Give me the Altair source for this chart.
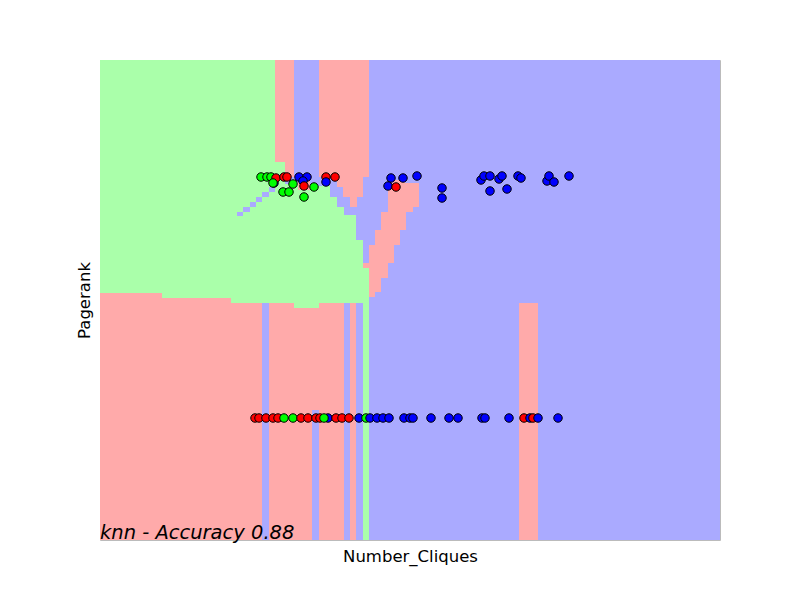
import altair as alt
import pandas as pd

# ---- decision-region rectangles (data units) ----
rx0 = [0, 0, 0, 62, 131, 194, 230, 237, 244, 256, 263, 175, 175, 219, 237, 243, 250,
       198, 210, 185,
       137, 143, 150, 156, 162, 169,
       293, 288, 288, 281, 275, 269, 269, 269, 269, 263,
       162, 212, 244, 256, 419]
rx1 = [620, 263, 175, 230, 230, 219, 237, 244, 256, 263, 269, 194, 185, 269, 263, 263, 257,
       210, 230, 198,
       143, 150, 156, 162, 169, 175,
       305, 319, 313, 306, 300, 294, 288, 281, 275, 269,
       169, 219, 250, 263, 438]
ry0 = [0, 0, 247, 242, 237, 232, 237, 237, 237, 237, 0, 363, 363, 363, 353, 343, 333,
       350, 354, 356,
       324, 328, 333, 338, 343, 348,
       357, 333, 328, 310, 295, 277, 262, 248, 243, 272,
       0, 0, 0, 0, 0]
ry1 = [480, 247, 480, 360, 242, 237, 343, 333, 325, 300, 272, 480, 378, 480, 363, 353, 343,
       360, 363, 363,
       328, 333, 338, 343, 348, 353,
       360, 357, 333, 328, 310, 295, 277, 262, 248, 277,
       237, 130, 237, 237, 237]
rcls = ["B", "R", "G", "G", "G", "G", "G", "G", "G", "G", "G", "R", "G", "R", "R", "R", "R",
        "R", "B", "B",
        "B", "B", "B", "B", "B", "B",
        "R", "R", "R", "R", "R", "R", "R", "R", "R", "R",
        "B", "B", "B", "B", "R"]

# ---- samples ----
bot_x = [155, 159, 166, 173, 178, 184, 193, 201, 208, 216, 220, 228, 224, 236, 242, 249,
         259, 266, 270, 277, 283, 289, 304, 310, 313, 331, 349, 358, 382, 385, 409,
         424, 430, 433, 438, 458]
bot_c = ["R", "R", "R", "R", "R", "G", "G", "R", "R", "R", "R", "B", "G", "R", "R", "R",
         "B", "G", "B", "B", "B", "B", "B", "B", "B", "B", "B", "B", "B", "B", "B",
         "R", "B", "R", "B", "B"]
bot_y = 122

top_x = [174, 161, 167, 171, 176, 173, 184, 187, 199, 207, 203, 204, 193, 183, 189, 204,
         214, 226, 226, 235,
         291, 288, 296, 303, 317, 342, 342,
         381, 384, 390, 390, 399, 402, 407, 418, 421, 447, 449, 454, 469]
top_y = [357, 363, 363, 363, 362, 357, 363, 363, 363, 363, 359, 354, 356, 348, 348, 343,
         353, 363, 358, 363,
         362, 354, 353, 362, 364, 352, 342,
         360, 364, 364, 349, 361, 364, 351, 364, 362, 359, 364, 358, 364]
top_c = ["B", "G", "G", "G", "R", "G", "R", "R", "B", "B", "B", "R", "G", "G", "G", "G",
         "G", "R", "B", "R",
         "B", "B", "R", "B", "B", "B", "B",
         "B", "B", "B", "B", "B", "B", "B", "B", "B", "B", "B", "B", "B"]

rects = pd.DataFrame({"x0": rx0, "x1": rx1, "y0": ry0, "y1": ry1, "cls": rcls,
                      "ord": list(range(len(rx0)))})
pts = pd.DataFrame({
    "x": bot_x + top_x,
    "y": [bot_y] * len(bot_x) + top_y,
    "cls": bot_c + top_c,
})

xs = alt.Scale(domain=[0, 620], nice=False, zero=False)
ys = alt.Scale(domain=[0, 480], nice=False, zero=False)
xax = alt.Axis(labels=False, ticks=False, domain=False, grid=False, title="Number_Cliques",
               titleFont="DejaVu Sans", titleFontSize=16.5, titleFontWeight="normal",
               titleColor="black", titlePadding=8)
yax = alt.Axis(labels=False, ticks=False, domain=False, grid=False, title="Pagerank",
               titleFont="DejaVu Sans", titleFontSize=16.5, titleFontWeight="normal",
               titleColor="black", titlePadding=8)

bg = alt.Chart(rects).mark_rect(strokeWidth=0).encode(
    x=alt.X("x0:Q", scale=xs, axis=xax),
    x2="x1:Q",
    y=alt.Y("y0:Q", scale=ys, axis=yax),
    y2="y1:Q",
    color=alt.Color("cls:N", scale=alt.Scale(domain=["B", "G", "R"],
                                             range=["#AAAAFF", "#AAFFAA", "#FFAAAA"]),
                    legend=None),
    order="ord:Q",
)

dots = alt.Chart(pts).mark_point(filled=True, shape="circle", size=72, stroke="black",
                                 strokeWidth=1, opacity=1).encode(
    x=alt.X("x:Q", scale=xs),
    y=alt.Y("y:Q", scale=ys),
    fill=alt.Fill("cls:N", scale=alt.Scale(domain=["B", "G", "R"],
                                           range=["#0000FF", "#00FF00", "#FF0000"]),
                  legend=None),
)

label = alt.Chart(pd.DataFrame({"x": [0], "y": [1], "t": ["knn - Accuracy 0.88"]})).mark_text(
    align="left", baseline="alphabetic", font="DejaVu Sans", fontStyle="italic",
    fontSize=19.5, color="black", clip=False
).encode(x=alt.X("x:Q", scale=xs), y=alt.Y("y:Q", scale=ys), text="t:N")

chart = alt.layer(bg, dots, label).resolve_scale(color="independent").properties(
    width=620, height=480,
    autosize=alt.AutoSizeParams(type="none"),
    padding={"left": 100, "top": 60, "right": 80, "bottom": 60},
    background="white",
).configure_view(stroke="#bbbbbb", strokeWidth=1)

chart.save("out.html", embed_options={"renderer": "svg", "actions": False})
